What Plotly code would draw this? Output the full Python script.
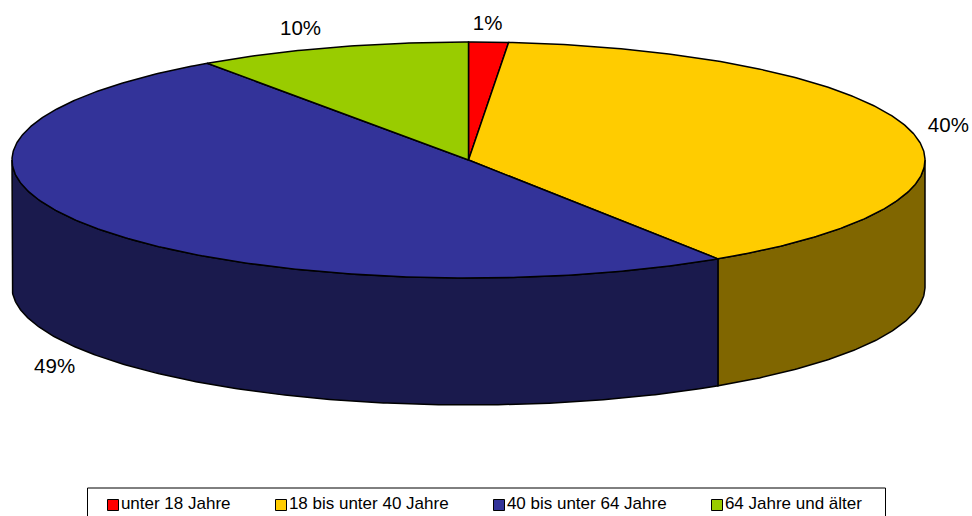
import numpy as np
import plotly.graph_objects as go

# data
categories = ["unter 18 Jahre", "18 bis unter 40 Jahre", "40 bis unter 64 Jahre", "64 Jahre und älter"]
shares = [1.4, 39.4, 49.5, 9.7]
pct_labels = ["1%", "40%", "49%", "10%"]
top_colors = ["#FF0000", "#FFCC00", "#333399", "#99CC00"]
side_colors = ["#800000", "#806600", "#1A1A4D", "#4D6600"]

# geometry of the drawing (pixels of the 972x516 page)
W, H = 972, 516
CX, CY, RX, RY, DEPTH = 468.5, 160, 456.5, 118, 127
FONT = "Liberation Sans, Arial, sans-serif"
label_nudge = [(-1, -17), (37, -4), (-35.5, 142), (-31, -18)]
legend_swatch_x = [113, 281, 499, 717]
LEGEND_Y = 505
LEGEND_BOX = (87.5, 488, 885.5, 517)


def pt(deg):
    a = np.radians(np.asarray(deg, dtype=float))
    return CX + RX * np.sin(a), CY - RY * np.cos(a)


def arc(a0, a1):
    n = max(2, int(abs(a1 - a0) * 2) + 2)
    return pt(np.linspace(a0, a1, n))


fig = go.Figure()
edges = np.concatenate([[0], np.cumsum(shares)]) / sum(shares) * 360

# outer wall: only the front half of the rim (90..270 deg clockwise from the top) is visible
for i in range(len(shares)):
    a0, a1 = max(edges[i], 90), min(edges[i + 1], 270)
    if a1 <= a0:
        continue
    x, y = arc(a0, a1)
    fig.add_trace(go.Scatter(
        x=np.concatenate([x, x[::-1], x[:1]]),
        y=np.concatenate([y, y[::-1] + DEPTH, y[:1]]),
        mode="lines", fill="toself", fillcolor=side_colors[i],
        line=dict(color="black", width=1.5), hoverinfo="skip", showlegend=False))

# top face
for i in range(len(shares)):
    x, y = arc(edges[i], edges[i + 1])
    fig.add_trace(go.Scatter(
        x=np.concatenate([[CX], x, [CX]]),
        y=np.concatenate([[CY], y, [CY]]),
        mode="lines", fill="toself", fillcolor=top_colors[i],
        line=dict(color="black", width=1.5), hoverinfo="skip", showlegend=False))

# percentage labels
mids = (edges[:-1] + edges[1:]) / 2
mx, my = pt(mids)
fig.add_trace(go.Scatter(
    x=mx + np.array([n[0] for n in label_nudge]),
    y=my + np.array([n[1] for n in label_nudge]),
    mode="text", text=pct_labels, textposition="middle center",
    textfont=dict(family=FONT, size=20.5, color="black"),
    hoverinfo="skip", showlegend=False))

# legend
fig.add_shape(type="rect", x0=LEGEND_BOX[0], y0=LEGEND_BOX[1], x1=LEGEND_BOX[2], y1=LEGEND_BOX[3],
              line=dict(color="black", width=1), fillcolor="white", layer="below")
fig.add_trace(go.Scatter(
    x=legend_swatch_x, y=[LEGEND_Y] * 4,
    mode="markers+text", text=categories, textposition="middle right",
    textfont=dict(family=FONT, size=17, color="black"),
    marker=dict(symbol="square", size=11, color=top_colors, line=dict(color="black", width=1)),
    hoverinfo="skip", showlegend=False, cliponaxis=False))

fig.update_layout(
    width=W, height=H, margin=dict(l=0, r=0, t=0, b=0),
    paper_bgcolor="white", plot_bgcolor="white", showlegend=False,
    xaxis=dict(range=[0, W], visible=False, fixedrange=True),
    yaxis=dict(range=[H, 0], visible=False, fixedrange=True),
)
fig.write_html("out.html", config={"displayModeBar": False},
               post_script="document.body.style.margin='0';document.documentElement.style.overflow='hidden';")
